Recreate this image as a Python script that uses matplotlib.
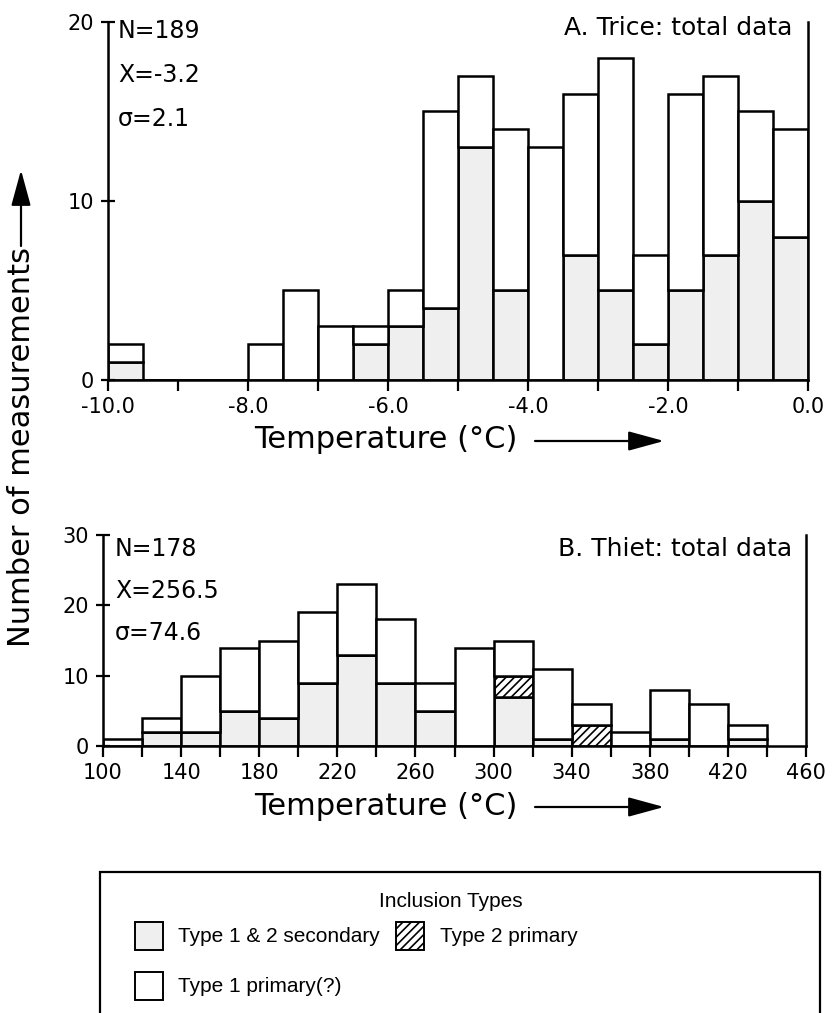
import numpy as np
import matplotlib.pyplot as plt
from matplotlib.patches import Rectangle

plt.rcParams['font.family'] = ['DejaVu Sans']
plt.rcParams['hatch.linewidth'] = 1.2

# Panel A: ice melting temperatures, 0.5 degree bins (lower edges)
bins_a = [-10.0, -9.5, -9.0, -8.5, -8.0, -7.5, -7.0, -6.5, -6.0, -5.5,
          -5.0, -4.5, -4.0, -3.5, -3.0, -2.5, -2.0, -1.5, -1.0, -0.5]
sec_a = [1, 0, 0, 0, 0, 0, 0, 2, 3, 4, 13, 5, 0, 7, 5, 2, 5, 7, 10, 8]
prim_a = [1, 0, 0, 0, 2, 5, 3, 1, 2, 11, 4, 9, 13, 9, 13, 5, 11, 10, 5, 6]

# Panel B: homogenization temperatures, 20 degree bins (lower edges)
bins_b = [100, 120, 140, 160, 180, 200, 220, 240, 260, 280,
          300, 320, 340, 360, 380, 400, 420]
sec_b = [0, 2, 2, 5, 4, 9, 13, 9, 5, 0, 7, 1, 0, 0, 1, 0, 1]
t2p_b = [0, 0, 0, 0, 0, 0, 0, 0, 0, 0, 3, 0, 3, 0, 0, 0, 0]
prim_b = [1, 2, 8, 9, 11, 10, 10, 9, 4, 14, 5, 10, 3, 2, 7, 6, 2]

stats_a = ['N=189', 'X=-3.2', '\u03c3=2.1']
stats_b = ['N=178', 'X=256.5', '\u03c3=74.6']

W, H = 833, 1013
SEC_COLOR = '#efefef'


def fx(px):
    return px / W


def fy(py):
    return 1 - py / H


fig = plt.figure(figsize=(W / 100, H / 100), dpi=100)
ax_a = fig.add_axes([fx(108), fy(380), fx(808) - fx(108), fy(22) - fy(380)])
ax_b = fig.add_axes([fx(103), fy(746), fx(806) - fx(103), fy(535) - fy(746)])


def style_axes(ax):
    ax.spines['top'].set_visible(False)
    for s in ['left', 'right', 'bottom']:
        ax.spines[s].set_linewidth(1.8)
    ax.tick_params(axis='y', direction='inout', length=10, width=1.6,
                   labelsize=15, pad=5)
    ax.tick_params(axis='x', which='both', direction='out', length=8,
                   width=1.6, labelsize=15, pad=4)
    ax.patch.set_alpha(0)


# Panel A bars
sec_a = np.array(sec_a)
prim_a = np.array(prim_a)
ax_a.bar(bins_a, sec_a, width=0.5, align='edge', facecolor=SEC_COLOR,
         edgecolor='k', lw=1.8)
ax_a.bar(bins_a, prim_a, width=0.5, align='edge', bottom=sec_a,
         facecolor='white', edgecolor='k', lw=1.8)
ax_a.set_xlim(-10, 0)
ax_a.set_ylim(0, 20)
ax_a.set_yticks([0, 10, 20])
ax_a.set_xticks([-10, -8, -6, -4, -2, 0])
ax_a.set_xticklabels(['-10.0', '-8.0', '-6.0', '-4.0', '-2.0', '0.0'])
ax_a.set_xticks([-9, -7, -5, -3, -1], minor=True)
style_axes(ax_a)

# Panel B bars
sec_b = np.array(sec_b)
t2p_b = np.array(t2p_b)
prim_b = np.array(prim_b)
ax_b.bar(bins_b, sec_b, width=20, align='edge', facecolor=SEC_COLOR,
         edgecolor='k', lw=1.8)
ax_b.bar(bins_b, t2p_b, width=20, align='edge', bottom=sec_b,
         facecolor='white', edgecolor='k', hatch='////', lw=1.8)
ax_b.bar(bins_b, prim_b, width=20, align='edge', bottom=sec_b + t2p_b,
         facecolor='white', edgecolor='k', lw=1.8)
ax_b.set_xlim(100, 460)
ax_b.set_ylim(0, 30)
ax_b.set_yticks([0, 10, 20, 30])
ax_b.set_xticks(range(100, 461, 40))
ax_b.set_xticks(range(120, 461, 40), minor=True)
style_axes(ax_b)

# stats and panel titles
for i, s in enumerate(stats_a):
    fig.text(fx(118), fy(31 + 44 * i), s, fontsize=17, va='center', ha='left')
for i, s in enumerate(stats_b):
    fig.text(fx(115), fy(549 + 42 * i), s, fontsize=17, va='center', ha='left')
fig.text(fx(792), fy(28), 'A. Trice: total data', fontsize=18,
         ha='right', va='center')
fig.text(fx(792), fy(549), 'B. Thiet: total data', fontsize=18,
         ha='right', va='center')

# axis labels with arrows
arrow = dict(arrowstyle='-|>,head_length=1.1,head_width=0.3', lw=1.6,
             color='k', mutation_scale=20, shrinkA=0, shrinkB=0)
for ylab in [440, 806]:
    fig.text(fx(254), fy(ylab), 'Temperature (\u00b0C)', fontsize=22,
             ha='left', va='center')
    fig.add_artist(plt.Annotation('', xy=(fx(664), fy(ylab + 1)),
                                  xytext=(fx(535), fy(ylab + 1)),
                                  xycoords='figure fraction',
                                  textcoords='figure fraction',
                                  arrowprops=arrow))
fig.text(fx(22), fy(447), 'Number of measurements', fontsize=22,
         rotation=90, ha='center', va='center')
fig.add_artist(plt.Annotation('', xy=(fx(21), fy(170)),
                              xytext=(fx(21), fy(246)),
                              xycoords='figure fraction',
                              textcoords='figure fraction',
                              arrowprops=arrow))

# legend box
box = Rectangle((fx(100), fy(1030)), fx(820) - fx(100), fy(872) - fy(1030),
                transform=fig.transFigure, fill=False, lw=1.6,
                edgecolor='k', clip_on=False)
fig.add_artist(box)
lfont = dict(family=['Liberation Sans', 'DejaVu Sans'], fontsize=15,
             va='center', ha='left')
fig.text(fx(451), fy(901), 'Inclusion Types', **dict(lfont, ha='center'))
swatches = [
    (135, 936, SEC_COLOR, None, 'Type 1 & 2 secondary', 178),
    (396, 936, 'white', '////', 'Type 2 primary', 440),
    (135, 986, 'white', None, 'Type 1 primary(?)', 178),
]
for x0, yc, fc, hatch, lab, tx in swatches:
    fig.add_artist(Rectangle((fx(x0), fy(yc + 14)), fx(28), 28 / H,
                             transform=fig.transFigure, facecolor=fc,
                             edgecolor='k', hatch=hatch, lw=1.4))
    fig.text(fx(tx), fy(yc), lab, **lfont)

fig.savefig('out.png', dpi=100)
